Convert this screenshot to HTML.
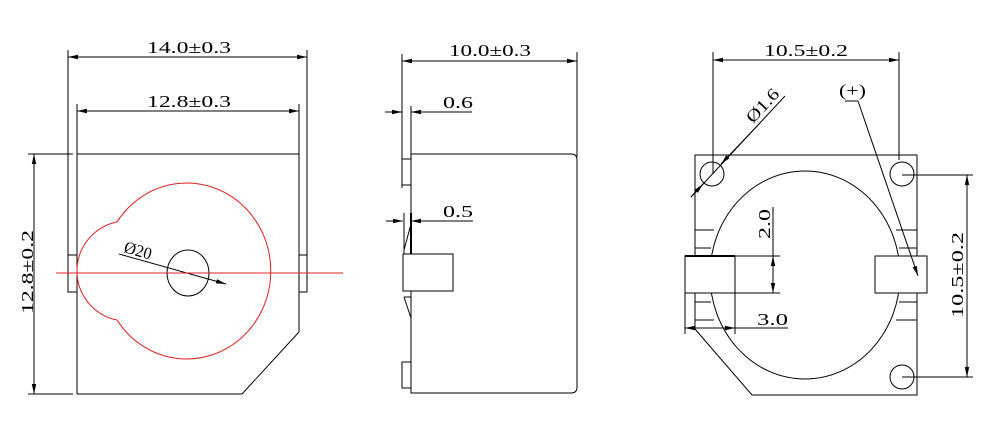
<!DOCTYPE html>
<html><head><meta charset="utf-8"><style>
html,body{margin:0;padding:0;background:#fff;}
svg{display:block;}
text{font-family:"Liberation Serif","Noto Serif CJK SC",serif;font-size:17px;fill:#000;}
</style></head><body>
<svg width="1003" height="444" viewBox="0 0 1003 444" xmlns="http://www.w3.org/2000/svg">
<defs>
<marker id="a" markerWidth="10" markerHeight="6" refX="10" refY="3" orient="auto" markerUnits="userSpaceOnUse"><path d="M0,0.8 L10,3 L0,5.2z" fill="#000"/></marker>
<marker id="b" markerWidth="10" markerHeight="6" refX="0" refY="3" orient="auto" markerUnits="userSpaceOnUse"><path d="M10,0.8 L0,3 L10,5.2z" fill="#000"/></marker>
</defs>
<g stroke="#000" stroke-width="1" fill="none">
<!-- LEFT VIEW -->
<line x1="68" y1="50" x2="68" y2="292"/>
<line x1="307" y1="50" x2="307" y2="292"/>
<line x1="68" y1="57" x2="307" y2="57" marker-start="url(#b)" marker-end="url(#a)"/>
<line x1="77" y1="104" x2="77" y2="394"/>
<line x1="299" y1="104" x2="299" y2="332"/>
<line x1="77" y1="111" x2="299" y2="111" marker-start="url(#b)" marker-end="url(#a)"/>
<line x1="28" y1="154" x2="73" y2="154"/>
<line x1="77" y1="154" x2="299" y2="154"/>
<polyline points="77,394 242,394 299,332"/>
<line x1="28" y1="394" x2="73" y2="394"/>
<line x1="34" y1="154" x2="34" y2="394" marker-start="url(#b)" marker-end="url(#a)"/>
<rect x="68" y="255" width="9" height="37"/>
<rect x="299" y="255" width="8" height="37"/>
<ellipse cx="188" cy="273" rx="21" ry="23"/>
<line x1="119" y1="254" x2="226" y2="284" marker-end="url(#a)"/>
<!-- MIDDLE VIEW -->
<line x1="402" y1="54" x2="402" y2="188"/>
<line x1="577" y1="52" x2="577" y2="157"/>
<line x1="402" y1="61" x2="577" y2="61" marker-start="url(#b)" marker-end="url(#a)"/>
<path d="M411,154 H571 Q577,154 577,160 V387 Q577,393 571,393 H411 Z"/>
<line x1="411" y1="106" x2="411" y2="154"/>
<rect x="402" y="159" width="9" height="26"/>
<rect x="402" y="362" width="9" height="26"/>
<line x1="385" y1="112" x2="402" y2="112" marker-end="url(#a)"/>
<line x1="472" y1="112" x2="411" y2="112" marker-end="url(#a)"/>
<line x1="386" y1="221" x2="403" y2="221" marker-end="url(#a)"/>
<line x1="473" y1="221" x2="411" y2="221" marker-end="url(#a)"/>
<line x1="404" y1="213" x2="404" y2="254"/>
<line x1="411" y1="213" x2="411" y2="260" stroke-width="2"/>
<line x1="404" y1="250" x2="411" y2="224"/>
<rect x="403" y="254" width="50" height="37" fill="#fff"/>
<polyline points="404,297 411,297 411,318"/>
<line x1="404" y1="297" x2="411" y2="318"/>
<!-- RIGHT VIEW -->
<line x1="713" y1="52" x2="713" y2="174"/>
<line x1="899" y1="52" x2="899" y2="160"/>
<line x1="713" y1="60" x2="899" y2="60" marker-start="url(#b)" marker-end="url(#a)"/>
<polyline points="695,329 695,155 917,155 917,395 752,395 695,329"/>
<ellipse cx="805" cy="275" rx="95" ry="104"/>
<circle cx="712" cy="174" r="12"/>
<circle cx="902" cy="174" r="12"/>
<circle cx="902" cy="377" r="12"/>
<line x1="695" y1="230" x2="714" y2="230"/><line x1="695" y1="248" x2="711" y2="248"/>
<line x1="695" y1="302" x2="711" y2="302"/><line x1="695" y1="320" x2="714" y2="320"/>
<line x1="896" y1="230" x2="917" y2="230"/><line x1="899" y1="248" x2="917" y2="248"/>
<line x1="899" y1="302" x2="917" y2="302"/><line x1="896" y1="320" x2="917" y2="320"/>
<rect x="685" y="256" width="50" height="37" fill="#fff"/>
<line x1="685" y1="256" x2="735" y2="256" stroke-width="2"/>
<rect x="875" y="256" width="52" height="37" fill="#fff"/>
<line x1="735" y1="256" x2="780" y2="256"/>
<line x1="735" y1="293" x2="780" y2="293"/>
<line x1="773" y1="207" x2="773" y2="256"/>
<line x1="773" y1="256" x2="773" y2="293" marker-start="url(#b)" marker-end="url(#a)"/>
<line x1="685" y1="293" x2="685" y2="334"/>
<line x1="735" y1="293" x2="735" y2="334"/>
<line x1="685" y1="328" x2="735" y2="328" marker-start="url(#b)" marker-end="url(#a)"/>
<line x1="735" y1="328" x2="788" y2="328"/>
<line x1="785" y1="96" x2="691" y2="197"/>
<line x1="760" y1="123" x2="721" y2="164" marker-end="url(#a)"/>
<line x1="691" y1="197" x2="703" y2="184" marker-end="url(#a)"/>
<line x1="858" y1="101" x2="918" y2="276" marker-end="url(#a)"/>
<line x1="845" y1="101" x2="858" y2="101"/>
<line x1="902" y1="175" x2="973" y2="175"/>
<line x1="902" y1="377" x2="973" y2="377"/>
<line x1="967" y1="175" x2="967" y2="377" marker-start="url(#b)" marker-end="url(#a)"/>
</g>
<!-- red -->
<g stroke="#e02020" stroke-width="1" fill="none">
<line x1="56" y1="273" x2="343" y2="273"/>
<path d="M117,222 A84,88 0 1 1 117,320 A50,50 0 0 1 117,222 Z"/>
</g>
<!-- text -->
<text x="147" y="53" textLength="84" lengthAdjust="spacingAndGlyphs">14.0±0.3</text>
<text x="147" y="107" textLength="84" lengthAdjust="spacingAndGlyphs">12.8±0.3</text>
<text transform="translate(33,314) rotate(-90)" textLength="84" lengthAdjust="spacingAndGlyphs">12.8±0.2</text>
<text transform="translate(123,252) rotate(16)" textLength="28" lengthAdjust="spacingAndGlyphs">Ø20</text>
<text x="449" y="56" textLength="82" lengthAdjust="spacingAndGlyphs">10.0±0.3</text>
<text x="443" y="108" textLength="30" lengthAdjust="spacingAndGlyphs">0.6</text>
<text x="443" y="217" textLength="30" lengthAdjust="spacingAndGlyphs">0.5</text>
<text x="764" y="56" textLength="84" lengthAdjust="spacingAndGlyphs">10.5±0.2</text>
<text transform="translate(753,124) rotate(-47)" textLength="40" lengthAdjust="spacingAndGlyphs">Ø1.6</text>
<text x="839" y="96" textLength="27" lengthAdjust="spacingAndGlyphs">(+)</text>
<text transform="translate(770,239) rotate(-90)" textLength="30" lengthAdjust="spacingAndGlyphs">2.0</text>
<text x="757" y="325" textLength="31" lengthAdjust="spacingAndGlyphs">3.0</text>
<text transform="translate(963,318) rotate(-90)" textLength="86" lengthAdjust="spacingAndGlyphs">10.5±0.2</text>
</svg>
</body></html>
